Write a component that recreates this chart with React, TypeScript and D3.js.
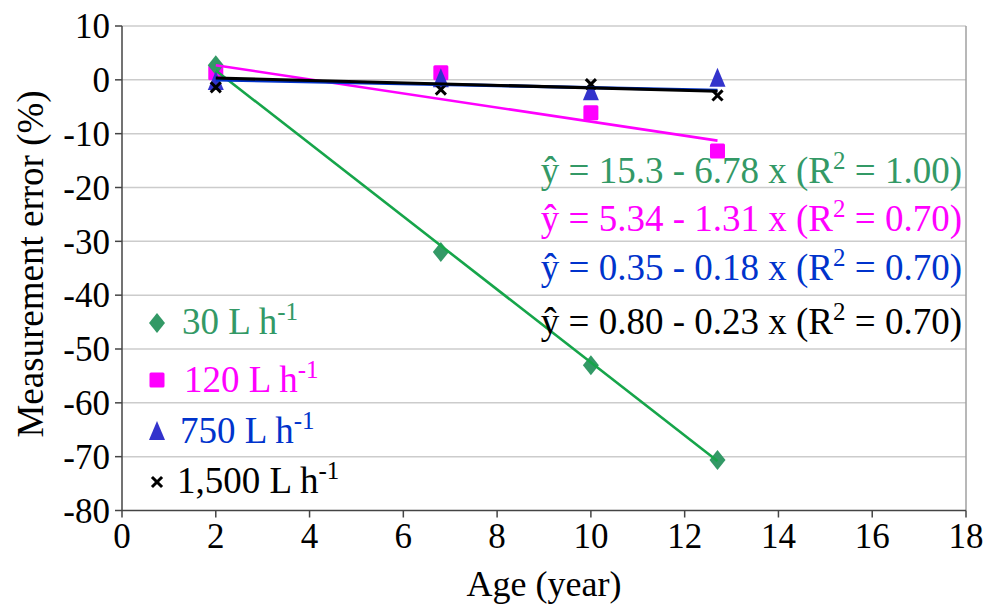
import * as d3 from 'd3'

const ages = [2, 6.8, 10, 12.7]
const err30 = [2.7, -32, -53, -70.6]
const err120 = [1.3, 1.3, -6.1, -13.2]
const err750 = [-0.4, 0.1, -2.3, 0.2]
const err1500 = [-1.4, -1.8, -0.8, -2.9]

const seriesNames = ['30', '120', '750', '1,500']
const intercepts = [15.3, 5.34, 0.35, 0.8]
const slopes = [-6.78, -1.31, -0.18, -0.23]
const eqTexts = [
  ['ŷ = 15.3 - 6.78 x (R', ' = 1.00)'],
  ['ŷ = 5.34 - 1.31 x (R', ' = 0.70)'],
  ['ŷ = 0.35 - 0.18 x (R', ' = 0.70)'],
  ['ŷ = 0.80 - 0.23 x (R', ' = 0.70)'],
]

const xTicks = d3.range(0, 19, 2)
const yTicks = d3.range(-80, 11, 10)

const W = 986
const H = 608
const font = '"Liberation Serif", "Times New Roman", serif'

const markerColors = ['#339966', '#ff00ff', '#3333cc', '#000000']
const lineColors = ['#16a54a', '#ff00ff', '#0033cc', '#000000']
const textColors = ['#339966', '#ff00ff', '#0033cc', '#000000']
const allSeries = [err30, err120, err750, err1500]

function Marker({ kind, x, y, color }: { kind: number; x: number; y: number; color: string }) {
  if (kind === 0) {
    return <path d={`M${x},${y - 10}L${x + 8},${y}L${x},${y + 10}L${x - 8},${y}Z`} fill={color} />
  }
  if (kind === 1) {
    return <rect x={x - 7.5} y={y - 7.5} width={15} height={15} rx={1.5} fill={color} />
  }
  if (kind === 2) {
    return <path d={`M${x},${y - 11}L${x + 8},${y + 8}L${x - 8},${y + 8}Z`} fill={color} />
  }
  return (
    <g stroke={color} strokeWidth={3} strokeLinecap="square">
      <line x1={x - 4} y1={y - 4} x2={x + 4} y2={y + 4} />
      <line x1={x - 4} y1={y + 4} x2={x + 4} y2={y - 4} />
    </g>
  )
}

export default function App() {
  const x = d3.scaleLinear().domain([0, 18]).range([122, 966])
  const y = d3.scaleLinear().domain([-80, 10]).range([510.5, 26])
  const [x0, x1] = d3.extent(ages) as [number, number]

  const line = d3.line<number[]>().x(d => x(d[0])).y(d => y(d[1]))

  const legendY = [323, 380, 432, 482]
  const legendTextY = [334, 392, 443, 493]
  const legendTextX = [182, 184, 180, 177]
  const eqY = [183, 231, 280, 334]

  return (
    <svg width={W} height={H} style={{ position: 'absolute', left: 0, top: 0, background: '#fff' }} fontFamily={font}>
      {/* gridlines */}
      {yTicks.filter(t => t > -80).map(t => (
        <line key={t} x1={x(0)} x2={x(18)} y1={y(t)} y2={y(t)} stroke="#cccccc" strokeWidth={1.5} />
      ))}
      <line x1={x(18)} x2={x(18)} y1={y(10)} y2={y(-80)} stroke="#a0a0a0" strokeWidth={1.5} />

      {/* axes */}
      <line x1={x(0)} x2={x(0)} y1={y(10)} y2={y(-80)} stroke="#444" strokeWidth={1.5} />
      <line x1={x(0)} x2={x(18)} y1={y(-80)} y2={y(-80)} stroke="#444" strokeWidth={1.5} />
      {yTicks.map(t => (
        <g key={t}>
          <line x1={x(0) - 7} x2={x(0)} y1={y(t)} y2={y(t)} stroke="#444" strokeWidth={1.5} />
          <text x={x(0) - 12} y={y(t)} dy="0.35em" textAnchor="end" fontSize={35} fill="#000">{t}</text>
        </g>
      ))}
      {xTicks.map(t => (
        <g key={t}>
          <line x1={x(t)} x2={x(t)} y1={y(-80)} y2={y(-80) + 7} stroke="#444" strokeWidth={1.5} />
          <text x={x(t)} y={548} textAnchor="middle" fontSize={35} fill="#000">{t}</text>
        </g>
      ))}

      <text x={x(9)} y={596} textAnchor="middle" fontSize={36} fill="#000">Age (year)</text>
      <text transform={`translate(43,264) rotate(-90)`} textAnchor="middle" fontSize={37} fill="#000">
        Measurement error (%)
      </text>

      {/* markers */}
      {[1, 0, 2, 3].map(s =>
        ages.map((a, i) => (
          <Marker key={`${s}-${i}`} kind={s} x={x(a)} y={y(allSeries[s][i])} color={markerColors[s]} />
        ))
      )}

      {/* trend lines */}
      {intercepts.map((b, s) => (
        <path
          key={s}
          d={line([[x0, b + slopes[s] * x0], [x1, b + slopes[s] * x1]]) || ''}
          stroke={lineColors[s]}
          strokeWidth={s >= 2 ? 3.2 : 2.6}
          fill="none"
        />
      ))}

      {/* legend */}
      {seriesNames.map((n, s) => (
        <g key={n}>
          <Marker kind={s} x={157} y={legendY[s]} color={markerColors[s]} />
          <text x={legendTextX[s]} y={legendTextY[s]} fontSize={37} fill={textColors[s]}>
            {n} L h<tspan dy={-14} fontSize={25}>-1</tspan>
          </text>
        </g>
      ))}

      {/* equations */}
      {eqTexts.map((e, s) => (
        <text key={s} x={962} y={eqY[s]} textAnchor="end" fontSize={37} fill={textColors[s]}>
          {e[0]}
          <tspan dy={-14} fontSize={25}>2</tspan>
          <tspan dy={14}>{e[1]}</tspan>
        </text>
      ))}
    </svg>
  )
}
